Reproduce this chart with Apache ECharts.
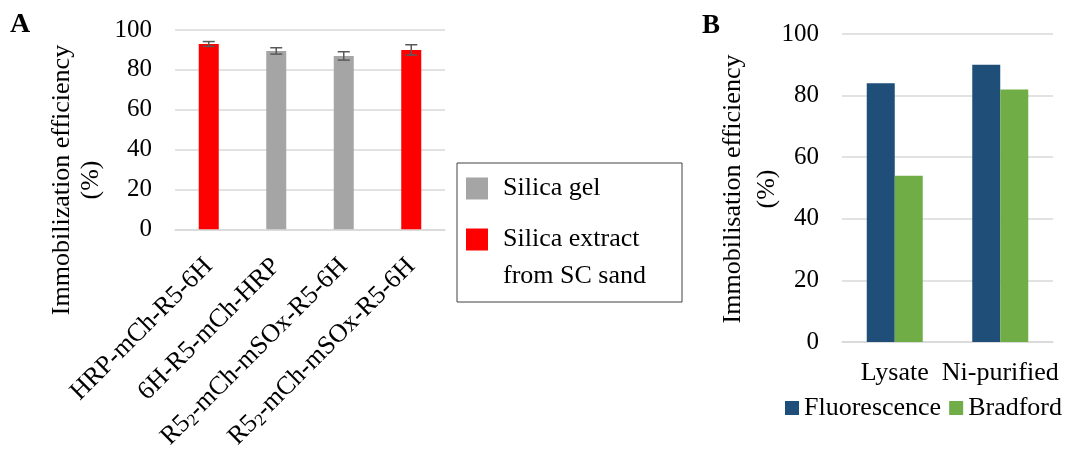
<!DOCTYPE html>
<html>
<head>
<meta charset="utf-8">
<script src="https://cdn.jsdelivr.net/npm/echarts@6/dist/echarts.min.js"></script>
<style>
  html, body { margin: 0; padding: 0; background: #ffffff; }
  #chart { width: 1078px; height: 453px; }
</style>
</head>
<body>
<div id="chart"></div>
<script>
// Panel A: immobilization efficiency of the fusion constructs on two silica sources
const catsA = ['HRP-mCh-R5-6H', '6H-R5-mCh-HRP', 'R5₂-mCh-mSOx-R5-6H', 'R5₂-mCh-mSOx-R5-6H'];
const silicaGel = ['-', 89.5, 87, '-'];
const silicaExtract = [93, '-', '-', 90];
const meanA = [93, 89.5, 87, 90];
const errA = [1.2, 1.6, 2.1, 2.6];
const seriesNamesA = ['Silica gel', 'Silica extract\nfrom SC sand'];

// Panel B: immobilisation efficiency measured two ways
const catsB = ['Lysate', 'Ni-purified'];
const fluorescence = [84, 90];
const bradford = [54, 82];
const seriesNamesB = ['Fluorescence', 'Bradford'];

const yTicks = { min: 0, max: 100, interval: 20 };

const FONT = "'Liberation Serif', 'Times New Roman', serif";
const GRID_COLOR = '#d9d9d9';

const chart = echarts.init(document.getElementById('chart'), null, { renderer: 'canvas' });

// split a category name so the "₂" is drawn as a lowered, smaller digit
function subLabel(v) {
  const parts = v.split('₂');
  if (parts.length === 1) return '{n|' + v + '}';
  return parts.map(p => '{n|' + p + '}').join('{s|2}');
}

const yAxisCommon = {
  type: 'value',
  min: yTicks.min, max: yTicks.max, interval: yTicks.interval,
  axisLine: { show: false },
  axisTick: { show: false },
  splitLine: { lineStyle: { color: GRID_COLOR, width: 1.5 } },
  axisLabel: { fontFamily: FONT, fontSize: 25, color: '#000', margin: 23 }
};

const option = {
  animation: false,
  backgroundColor: '#ffffff',
  grid: [
    { left: 175, top: 30, width: 270, height: 200 },
    { left: 842, top: 34, width: 211, height: 308 }
  ],
  xAxis: [
    {
      type: 'category', gridIndex: 0, data: catsA,
      axisLine: { lineStyle: { color: GRID_COLOR, width: 1.5 } },
      axisTick: { show: false },
      axisLabel: {
        rotate: 45, margin: 33, interval: 0,
        formatter: subLabel,
        rich: {
          n: { fontFamily: FONT, fontSize: 26, color: '#000', lineHeight: 28 },
          s: { fontFamily: FONT, fontSize: 17, color: '#000', lineHeight: 17, verticalAlign: 'bottom' }
        }
      }
    },
    {
      type: 'category', gridIndex: 1, data: catsB,
      axisLine: { lineStyle: { color: GRID_COLOR, width: 1.5 } },
      axisTick: { show: false },
      axisLabel: { fontFamily: FONT, fontSize: 26, color: '#000', margin: 18, interval: 0 }
    }
  ],
  yAxis: [
    Object.assign({ gridIndex: 0 }, yAxisCommon),
    Object.assign({ gridIndex: 1 }, yAxisCommon)
  ],
  legend: [
    {
      data: [seriesNamesA[0], seriesNamesA[1]],
      orient: 'vertical',
      left: 457, top: 163,
      itemWidth: 22, itemHeight: 22,
      itemGap: -23,
      icon: 'rect',
      borderColor: '#404040', borderWidth: 1,
      padding: [7, 36, 7, 9],
      textStyle: { fontFamily: FONT, fontSize: 26, color: '#000', lineHeight: 37, padding: [0, 0, 0, 10] },
      // an empty first line keeps the swatch level with "Silica extract"
      formatter: function (name) { return name.indexOf('\n') >= 0 ? '\n' + name : name; }
    },
    {
      data: seriesNamesB,
      orient: 'horizontal',
      left: 780, top: 390,
      itemWidth: 14, itemHeight: 14,
      itemGap: 8,
      icon: 'rect',
      textStyle: { fontFamily: FONT, fontSize: 26, color: '#000' }
    }
  ],
  graphic: [
    { type: 'text', x: 10, y: 11, style: { text: 'A', font: 'bold 28px ' + FONT, fill: '#000' } },
    { type: 'text', x: 702, y: 13, style: { text: 'B', font: 'bold 27px ' + FONT, fill: '#000' } },
    {
      type: 'text', x: 77, y: 180, rotation: Math.PI / 2,
      style: { text: 'Immobilization efficiency\n(%)', font: '26px ' + FONT, fill: '#000',
               align: 'center', verticalAlign: 'middle', lineHeight: 29 }
    },
    {
      type: 'text', x: 750, y: 189, rotation: Math.PI / 2,
      style: { text: 'Immobilisation efficiency\n(%)', font: '26px ' + FONT, fill: '#000',
               align: 'center', verticalAlign: 'middle', lineHeight: 34 }
    }
  ],
  series: [
    {
      name: seriesNamesA[0], type: 'bar', xAxisIndex: 0, yAxisIndex: 0,
      data: silicaGel, barWidth: 20, barGap: '-100%',
      itemStyle: { color: '#a5a5a5' }
    },
    {
      name: seriesNamesA[1], type: 'bar', xAxisIndex: 0, yAxisIndex: 0,
      data: silicaExtract, barWidth: 20, barGap: '-100%',
      itemStyle: { color: '#ff0000' }
    },
    {
      // error bars (mean ± error) for panel A
      type: 'custom', xAxisIndex: 0, yAxisIndex: 0, z: 5,
      data: meanA.map((m, i) => [i, m, errA[i]]),
      renderItem: function (params, api) {
        const x = api.value(0);
        const m = api.value(1);
        const e = api.value(2);
        const hi = api.coord([x, m + e]);
        const lo = api.coord([x, m - e]);
        const cap = 6;
        const st = { stroke: '#595959', lineWidth: 1.5 };
        return {
          type: 'group',
          children: [
            { type: 'line', shape: { x1: hi[0], y1: hi[1], x2: lo[0], y2: lo[1] }, style: st },
            { type: 'line', shape: { x1: hi[0] - cap, y1: hi[1], x2: hi[0] + cap, y2: hi[1] }, style: st },
            { type: 'line', shape: { x1: lo[0] - cap, y1: lo[1], x2: lo[0] + cap, y2: lo[1] }, style: st }
          ]
        };
      },
      silent: true
    },
    {
      name: seriesNamesB[0], type: 'bar', xAxisIndex: 1, yAxisIndex: 1,
      data: fluorescence, barWidth: 28, barGap: '0%',
      itemStyle: { color: '#1f4e79' }
    },
    {
      name: seriesNamesB[1], type: 'bar', xAxisIndex: 1, yAxisIndex: 1,
      data: bradford, barWidth: 28, barGap: '0%',
      itemStyle: { color: '#70ad47' }
    }
  ]
};

chart.setOption(option);
</script>
</body>
</html>
